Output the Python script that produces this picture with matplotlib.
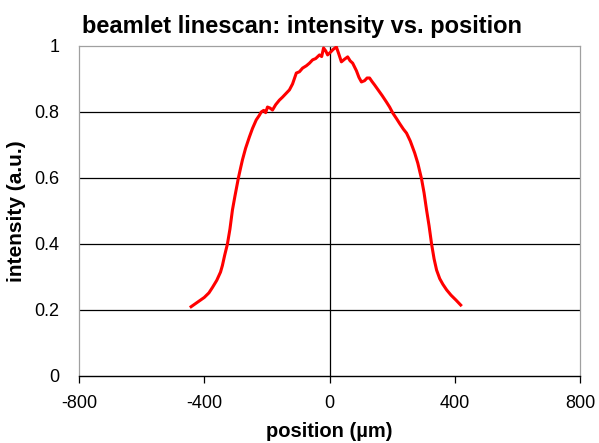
import numpy as np
import matplotlib.pyplot as plt

plt.rcParams['font.family'] = ['Liberation Sans', 'DejaVu Sans']
plt.rcParams['axes.unicode_minus'] = False

# linescan: position in um, normalised intensity
position = [-442, -430, -415, -400, -385, -374, -360, -348, -342, -335, -326,
            -318, -310, -302, -291, -284, -278, -268, -256, -246, -234, -224,
            -218, -210, -204, -198, -190, -182, -172, -160, -150, -140, -128,
            -118, -106, -96, -86, -74, -64, -54, -44, -32, -25, -19, -12,
            -6, 4, 12, 22, 30, 38, 48, 58, 66, 74, 86, 94, 102, 112, 120,
            128, 136, 144, 156, 168, 182, 192, 202, 214, 224, 236, 246, 258,
            272, 282, 294, 302, 310, 318, 326, 334, 342, 352, 362, 374, 388,
            404, 419]
intensity = [0.210, 0.218, 0.228, 0.238, 0.252, 0.268, 0.290, 0.315, 0.335,
             0.365, 0.400, 0.445, 0.503, 0.545, 0.600, 0.630, 0.655, 0.690,
             0.724, 0.750, 0.776, 0.790, 0.800, 0.805, 0.798, 0.815, 0.812,
             0.806, 0.822, 0.836, 0.845, 0.855, 0.867, 0.885, 0.918, 0.922,
             0.933, 0.940, 0.948, 0.958, 0.962, 0.973, 0.968, 0.994, 0.985,
             0.973, 0.982, 0.990, 0.997, 0.975, 0.952, 0.960, 0.967, 0.955,
             0.948, 0.925, 0.905, 0.891, 0.895, 0.903, 0.903, 0.892, 0.882,
             0.866, 0.850, 0.830, 0.815, 0.797, 0.780, 0.765, 0.748, 0.736,
             0.712, 0.676, 0.645, 0.597, 0.555, 0.503, 0.455, 0.400, 0.355,
             0.321, 0.295, 0.278, 0.261, 0.245, 0.230, 0.215]

x_ticks = [-800, -400, 0, 400, 800]
y_ticks = [0, 0.2, 0.4, 0.6, 0.8, 1]
y_ticklabels = ['0', '0.2', '0.4', '0.6', '0.8', '1']

fig = plt.figure(figsize=(5.99, 4.43), dpi=100)
ax = fig.add_axes([79 / 599, 67 / 443, 501 / 599, 330 / 443])

ax.plot(position, intensity, color='#ff0000', linewidth=2.2, zorder=3)

ax.set_xlim(-800, 800)
ax.set_ylim(0, 1)
ax.set_xticks(x_ticks)
ax.set_yticks(y_ticks)
ax.set_yticklabels(y_ticklabels)

# Excel-like axes: gridlines black, y axis crossing at x=0
for y in y_ticks[1:-1]:
    ax.axhline(y, color='black', linewidth=0.9, zorder=1)
ax.axvline(0, color='black', linewidth=0.9, zorder=1)
for side in ['top', 'right', 'left']:
    ax.spines[side].set_color('#a0a0a0')
    ax.spines[side].set_linewidth(0.9)
ax.spines['bottom'].set_color('black')
ax.spines['bottom'].set_linewidth(1.0)

ax.tick_params(axis='x', direction='out', length=5, width=0.9, pad=9,
               labelsize=13)
ax.tick_params(axis='y', length=0, pad=14, labelsize=13)

ax.set_title('beamlet linescan: intensity vs. position', fontsize=17,
             fontweight='bold', loc='left', x=0.006, pad=9)
ax.set_xlabel('position (\u00b5m)', fontsize=14.5, fontweight='bold',
              labelpad=7)
ax.set_ylabel('intensity (a.u.)', fontsize=15, fontweight='bold',
              labelpad=6)

fig.savefig('out.png', dpi=100)
